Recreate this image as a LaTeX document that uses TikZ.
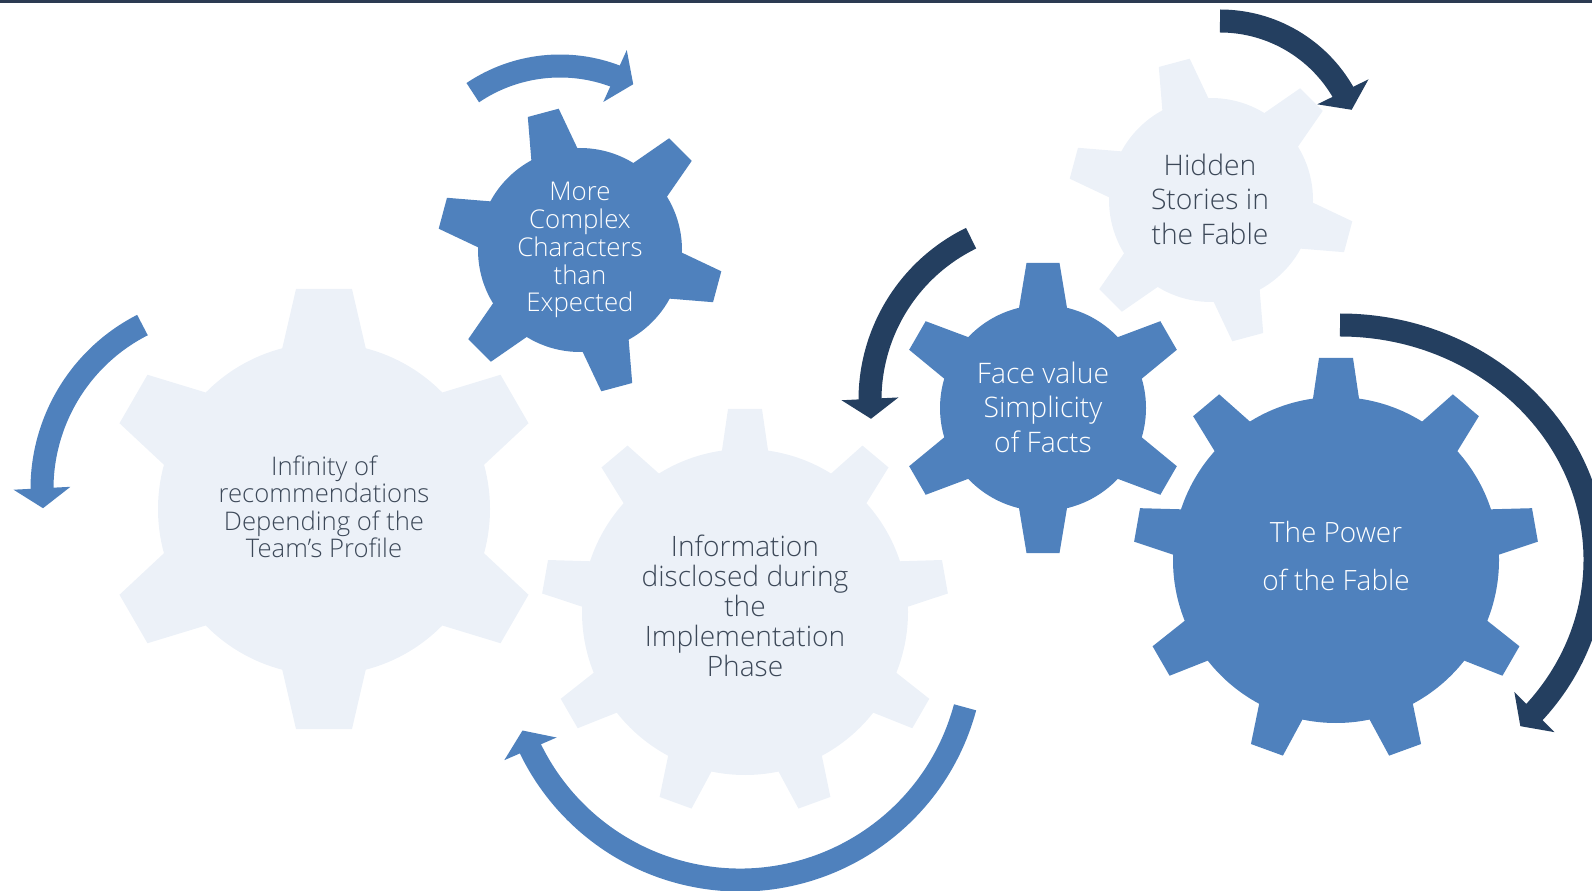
\documentclass[tikz,border=0pt]{standalone}
\usepackage{fontspec}
\setmainfont{Open Sans}[UprightFont=* Light]
\usetikzlibrary{arrows.meta,bending}

\definecolor{gearblue}{HTML}{4F81BD}
\definecolor{gearpale}{HTML}{ECF1F8}
\definecolor{arrowdark}{HTML}{243F60}
\definecolor{textdark}{HTML}{3C4858}
\definecolor{topline}{HTML}{2C3B52}

% gear at a named point: center, body radius, tip radius, teeth, first tooth angle, half base, half tip, colour
\newcommand{\drawgear}[8]{%
  \fill[#8] (#1) circle[radius=#2];
  \foreach \k in {1,...,#4}{%
    \fill[#8, shift={(#1)}, rotate={#5+360/#4*(\k-1)}]
      (#2-15,-#6) -- (#3,-#7) -- (#3,#7) -- (#2-15,#6) -- cycle;
  }%
}

\begin{document}
\begin{tikzpicture}[x=0.02cm, y=0.02cm,
    turn/.style={line width=0.46cm, -{Triangle[length=0.4cm, width=1.12cm, flex]}},
    gtext/.style={align=center, inner sep=0pt}]

    \useasboundingbox (0,0) rectangle (1592,-891);
    \fill[topline] (0,0) rectangle (1592,-3);

    % Gear centres
    \coordinate (gInf) at (324,-509);
    \coordinate (gCpx) at (580,-250);
    \coordinate (gInfo) at (745,-612);
    \coordinate (gPow) at (1336,-560);
    \coordinate (gFace) at (1043,-408);
    \coordinate (gHid) at (1211,-200);

    % Gears
    \drawgear{gInf}{166}{220}{6}{30}{44}{28}{gearpale}
    \drawgear{gCpx}{102}{142}{6}{45}{26}{16}{gearblue}
    \drawgear{gInfo}{163}{203}{9}{90}{25}{17}{gearpale}
    \drawgear{gPow}{163}{202}{9}{90}{25}{17}{gearblue}
    \drawgear{gFace}{103}{145}{6}{30}{26}{16.5}{gearblue}
    \drawgear{gHid}{102}{142}{6}{45}{26}{16}{gearpale}

    % Labels
    \node[gtext, text=textdark, font=\fontsize{14.6}{15.6}\selectfont] (infinity) at (324,-507)
        {Infinity of\\recommendations\\Depending of the\\Team’s Profile};
    \node[gtext, text=white, font=\fontsize{14.7}{15.9}\selectfont] (complex) at (580,-250)
        {More\\Complex\\Characters\\than\\Expected};
    \node[gtext, text=textdark, font=\fontsize{16}{17.1}\selectfont] (disclosed) at (745,-606)
        {Information\\disclosed during\\the\\Implementation\\Phase};
    \node[gtext, text=white, font=\fontsize{15.9}{27.2}\selectfont] (power) at (1336,-556)
        {The Power\\of the Fable};
    \node[gtext, text=white, font=\fontsize{16.1}{19.6}\selectfont] (facevalue) at (1043,-407)
        {Face value\\Simplicity\\of Facts};
    \node[gtext, text=textdark, font=\fontsize{16.1}{19.6}\selectfont] (hidden) at (1210,-199)
        {Hidden\\Stories in\\the Fable};

    % Turning arrows
    \coordinate (tCpx) at (560,-222);
    \coordinate (tInf) at (226,-489);
    \coordinate (tInfo) at (740,-647);
    \coordinate (tFace) at (1050,-400);
    \coordinate (tHid) at (1220,-163);
    \coordinate (tPow) at (1340,-560);

    \draw[turn, gearblue] (tCpx) ++(124:156) arc[start angle=124, end angle=62, radius=156];
    \draw[turn, gearblue] (tInf) ++(117:184) arc[start angle=117, end angle=186, radius=184];
    \draw[turn, gearblue] (tInfo) ++(-15:233) arc[start angle=-15, end angle=-159, radius=233];
    \draw[turn, arrowdark] (tFace) ++(116:180) arc[start angle=116, end angle=186, radius=180];
    \draw[turn, arrowdark] (tHid) ++(90:142) arc[start angle=90, end angle=22, radius=142];
    \draw[turn, arrowdark] (tPow) ++(0,235) arc[start angle=90, end angle=-45, x radius=255, y radius=235];

\end{tikzpicture}
\end{document}
